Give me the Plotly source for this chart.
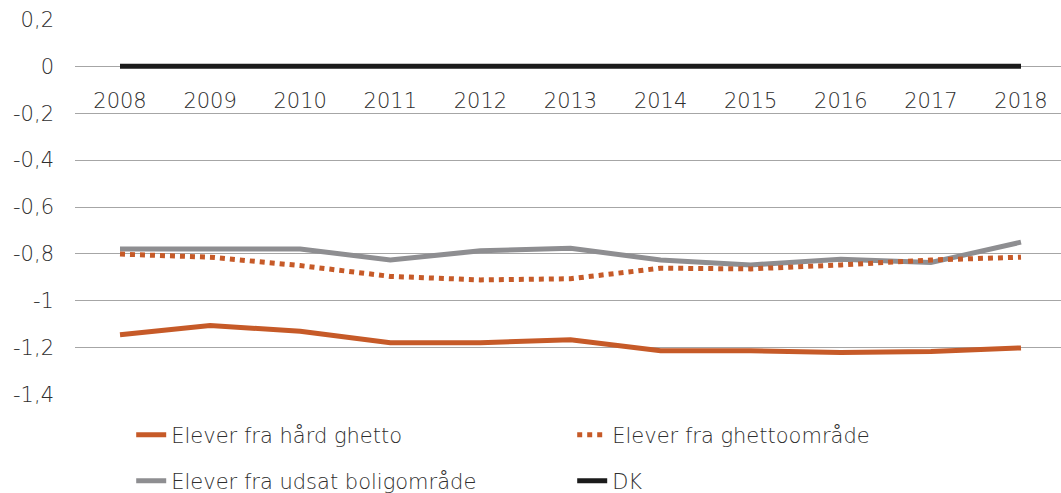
import plotly.graph_objects as go

years = ["2008", "2009", "2010", "2011", "2012", "2013", "2014", "2015", "2016", "2017", "2018"]
hard_ghetto = [-1.145, -1.106, -1.13, -1.179, -1.179, -1.166, -1.213, -1.213, -1.221, -1.216, -1.201]
ghettoomraade = [-0.801, -0.814, -0.850, -0.896, -0.911, -0.906, -0.861, -0.864, -0.847, -0.826, -0.814]
udsat = [-0.779, -0.779, -0.779, -0.826, -0.787, -0.776, -0.826, -0.847, -0.823, -0.837, -0.750]
dk = [0, 0, 0, 0, 0, 0, 0, 0, 0, 0, 0]

y_ticks = [0.2, 0, -0.2, -0.4, -0.6, -0.8, -1.0, -1.2, -1.4]
y_ticktext = ["0,2", "0", "-0,2", "-0,4", "-0,6", "-0,8", "-1", "-1,2", "-1,4"]

ORANGE = "#C65A28"
GRAY = "#8E8E91"
BLACK = "#1B1B1B"
FONT = "DejaVu Sans"
TXT = "#2E2E2E"
FS = 21


def f():
    return dict(family=FONT, size=FS, color=TXT, weight=300)


fig = go.Figure()
fig.add_trace(go.Scatter(x=years, y=hard_ghetto, mode="lines", name="Elever fra hård ghetto",
                         line=dict(color=ORANGE, width=5), legend="legend", legendrank=1))
fig.add_trace(go.Scatter(x=years, y=udsat, mode="lines", name="Elever fra udsat boligområde",
                         line=dict(color=GRAY, width=5), legend="legend2", legendrank=1))
fig.add_trace(go.Scatter(x=years, y=ghettoomraade, mode="lines", name="Elever fra ghettoområde",
                         line=dict(color=ORANGE, width=5, dash="dot"), legend="legend", legendrank=2))
fig.add_trace(go.Scatter(x=years, y=dk, mode="lines", name="DK",
                         line=dict(color=BLACK, width=5), legend="legend2", legendrank=2))

top, bottom = 19, 395
H = 493
plot_h = bottom - top
y0_px = 66
pos = (bottom - y0_px) / plot_h

leg_common = dict(orientation="h", x=0.057, xanchor="left", yanchor="middle",
                  entrywidth=396, entrywidthmode="pixels", traceorder="normal",
                  font=f(), bgcolor="rgba(0,0,0,0)")

fig.update_layout(
    width=1061, height=493,
    margin=dict(l=75, r=0, t=top, b=H - bottom, autoexpand=False),
    plot_bgcolor="white", paper_bgcolor="white",
    font=f(),
    showlegend=True,
    legend=dict(**leg_common, y=(bottom - 435) / plot_h),
    legend2=dict(**leg_common, y=(bottom - 481) / plot_h),
    xaxis=dict(type="category", range=[-0.4994, 10.444], showgrid=False, zeroline=False,
               showline=False, ticks="", anchor="free", position=pos,
               ticklabelstandoff=20, tickfont=f()),
    yaxis=dict(range=[-1.402, 0.202], tickvals=y_ticks, ticktext=y_ticktext,
               showgrid=True, gridcolor="#A6A6A6", gridwidth=1, zeroline=False,
               showline=False, ticks="", ticklabelstandoff=20,
               tickfont=f()),
)

fig.write_html("out.html", config={"displayModeBar": False},
               post_script="document.body.style.margin='0';")
